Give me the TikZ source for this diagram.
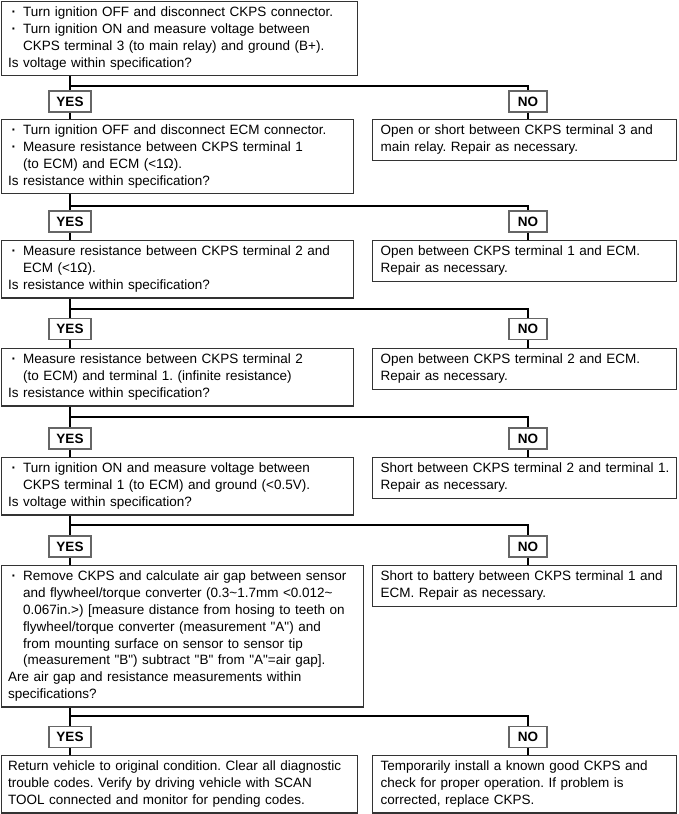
\documentclass[tikz,border=0pt]{standalone}
\usepackage{fontspec}
\setmainfont{Liberation Sans}[Ligatures=TeXOff]
\newcommand{\bul}{\makebox[15pt][l]{\hspace{3.5pt}\textbf{·}}}
\newcommand{\ind}{\hspace*{15pt}}
\begin{document}
\frenchspacing
\begin{tikzpicture}[x=1pt,y=-1pt,
  lbox/.style={draw=black!80, line width=1.2pt, anchor=north west, inner xsep=6.5pt, inner ysep=3.5pt,
    align=left, font=\fontsize{13.5}{16.8}\selectfont, text width=#1,
    execute at begin node={\frenchspacing\hyphenpenalty=10000\relax\strut}, execute at end node=\strut},
  rbox/.style={lbox=288pt, inner xsep=8pt},
  ans/.style={draw=black!60, line width=1.2pt, inner sep=0pt, minimum height=21pt,
    font=\fontsize{13.5}{16}\selectfont\bfseries},
  yes/.style={ans, minimum width=42pt},
  no/.style={ans, minimum width=38pt},
  conn/.style={draw=black, line width=1.6pt}]
\useasboundingbox (0,0) rectangle (678,814);

% left column
\node[lbox=343pt] (q1) at (1,1) {\bul Turn ignition OFF and disconnect CKPS connector.\\
\bul Turn ignition ON and measure voltage between\\
\ind CKPS terminal 3 (to main relay) and ground (B+).\\
Is voltage within specification?};
\node[lbox=339pt] (q2) at (1,119) {\bul Turn ignition OFF and disconnect ECM connector.\\
\bul Measure resistance between CKPS terminal 1\\
\ind (to ECM) and ECM (<1Ω).\\
Is resistance within specification?};
\node[lbox=339pt] (q3) at (1,240) {\bul Measure resistance between CKPS terminal 2 and\\
\ind ECM (<1Ω).\\
Is resistance within specification?};
\node[lbox=339pt] (q4) at (1,348) {\bul Measure resistance between CKPS terminal 2\\
\ind (to ECM) and terminal 1. (infinite resistance)\\
Is resistance within specification?};
\node[lbox=339pt] (q5) at (1,457) {\bul Turn ignition ON and measure voltage between\\
\ind CKPS terminal 1 (to ECM) and ground (<0.5V).\\
Is voltage within specification?};
\node[lbox=349pt] (q6) at (1,565) {\bul Remove CKPS and calculate air gap between sensor\\
\ind and flywheel/torque converter (0.3\textasciitilde1.7mm <0.012\textasciitilde\\
\ind 0.067in.>) [measure distance from hosing to teeth on\\
\ind flywheel/torque converter (measurement "A") and\\
\ind from mounting surface on sensor to sensor tip\\
\ind (measurement "B") subtract "B" from "A"=air gap].\\
Are air gap and resistance measurements within\\
specifications?};
\node[lbox=343pt] (q7) at (1,755) {Return vehicle to original condition. Clear all diagnostic\\
trouble codes. Verify by driving vehicle with SCAN\\
TOOL connected and monitor for pending codes.};

% right column
\node[rbox] (r1) at (372,119) {Open or short between CKPS terminal 3 and\\ main relay. Repair as necessary.};
\node[rbox] (r2) at (372,240) {Open between CKPS terminal 1 and ECM.\\ Repair as necessary.};
\node[rbox] (r3) at (372,348) {Open between CKPS terminal 2 and ECM.\\ Repair as necessary.};
\node[rbox] (r4) at (372,457) {\mbox{Short between CKPS terminal 2 and terminal 1.}\\ Repair as necessary.};
\node[rbox] (r5) at (372,565) {Short to battery between CKPS terminal 1 and\\ ECM. Repair as necessary.};
\node[rbox] (r6) at (372,755) {Temporarily install a known good CKPS and\\ check for proper operation. If problem is\\ corrected, replace CKPS.};

% YES / NO labels
\node[yes] (y1) at (70,101.5) {YES};
\node[yes] (y2) at (70,221.5) {YES};
\node[yes] (y3) at (70,329) {YES};
\node[yes] (y4) at (70,438.5) {YES};
\node[yes] (y5) at (70,546.5) {YES};
\node[yes] (y6) at (70,737) {YES};
\node[no] (n1) at (528,101.5) {NO};
\node[no] (n2) at (528,221.5) {NO};
\node[no] (n3) at (528,329) {NO};
\node[no] (n4) at (528,438.5) {NO};
\node[no] (n5) at (528,546.5) {NO};
\node[no] (n6) at (528,737) {NO};

% junctions
\coordinate (j1) at (70,86);
\coordinate (j2) at (70,206);
\coordinate (j3) at (70,309);
\coordinate (j4) at (70,417);
\coordinate (j5) at (70,525);
\coordinate (j6) at (70,716);

\foreach \q/\y/\n/\j/\nq/\r in {q1/y1/n1/j1/q2/r1, q2/y2/n2/j2/q3/r2, q3/y3/n3/j3/q4/r3,
  q4/y4/n4/j4/q5/r4, q5/y5/n5/j5/q6/r5, q6/y6/n6/j6/q7/r6}{
  \draw[conn] (\q.south -| \y) -- (\y.north);
  \draw[conn] (\y.south) -- (\nq.north -| \y);
  \draw[conn] (\j) -| (\n.north);
  \draw[conn] (\n.south) -- (\r.north -| \n);
}
\end{tikzpicture}
\end{document}
